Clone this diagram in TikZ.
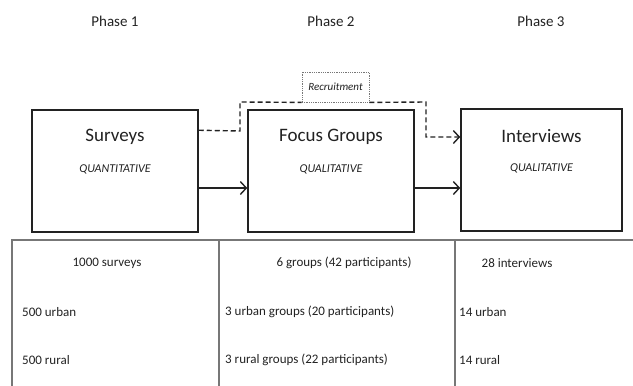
\documentclass[tikz,border=0pt]{standalone}
\usepackage{fontspec}
\setmainfont{Carlito}
\usepackage{tikz}
\usepackage{xcolor}
\usetikzlibrary{arrows.meta, positioning, calc}

\definecolor{ink}{HTML}{222222}
\definecolor{rulegray}{HTML}{777777}

\begin{document}
\begin{tikzpicture}[x=1pt, y=-1pt,
  phasebox/.style={draw=ink, line width=1.5pt, minimum width=166pt, minimum height=122pt, inner sep=0pt},
  phaselabel/.style={font=\fontsize{15}{18}\selectfont, text=ink},
  title/.style={font=\fontsize{19}{22}\selectfont, text=ink},
  kind/.style={font=\fontsize{12}{14}\selectfont\itshape, text=ink},
  cell/.style={font=\fontsize{13}{15}\selectfont, text=ink, anchor=west, inner sep=0pt},
  head/.style={font=\fontsize{13}{15}\selectfont, text=ink, inner sep=0pt},
  flow/.style={draw=ink, line width=1.4pt, -{Straight Barb[length=6pt,width=13pt]}},
  dashline/.style={draw=ink, line width=1.4pt, dash pattern=on 5pt off 3pt}]
\useasboundingbox (0,0) rectangle (633,386);

% Phase headings
\node[phaselabel] (ph1) at (115,21) {Phase 1};
\node[phaselabel] (ph2) at (331,21) {Phase 2};
\node[phaselabel] (ph3) at (541,21) {Phase 3};

% Boxes
\node[phasebox] (surv) at (115,171) {};
\node[title] (survt) at (115,137) {Surveys};
\node[kind] (survk) at (115,169) {QUANTITATIVE};

\node[phasebox] (focus) at (331,171) {};
\node[title] (focust) at (331,137) {Focus Groups};
\node[kind] (focusk) at (331,169) {QUALITATIVE};

\node[phasebox, minimum width=161pt] (intv) at (541.5,170) {};
\node[title] (intvt) at (541.5,136) {Interviews};
\node[kind] (intvk) at (541.5,168) {QUALITATIVE};

% Recruitment
\node[draw=rulegray, densely dotted, line width=0.8pt, minimum width=67pt, minimum height=30pt,
  font=\fontsize{11}{13}\selectfont\itshape, text=ink] (rec) at (335.5,87) {Recruitment};

% Arrows
\draw[flow] (surv.east |- 0,188) -- (focus.west |- 0,188);
\draw[flow] (focus.east |- 0,188) -- (intv.west |- 0,188);
\draw[dashline] ($(surv.north east)+(0,21)$) -- (240,131) -- (240,102) -- (rec.south west);
\draw[dashline, -{Straight Barb[length=6pt,width=13pt]}] (rec.south east) -- (426,102) -- (426,137) -- (intv.west |- 0,137);

% Table
\draw[rulegray, line width=1.4pt] (12,386) -- (12,240) -- (633,240);
\draw[rulegray, line width=1.4pt] (219,240) -- (219,386);
\draw[rulegray, line width=1.4pt] (455,240) -- (455,386);

\node[head] (h1) at (107,263) {1000 surveys};
\node[head] (h2) at (344,263) {6 groups (42 participants)};
\node[head] (h3) at (517,263) {28 interviews};

\node[cell] (c11) at (22,312) {500 urban};
\node[cell] (c12) at (22,360) {500 rural};
\node[cell] (c21) at (225,312) {3 urban groups (20 participants)};
\node[cell] (c22) at (225,360) {3 rural groups (22 participants)};
\node[cell] (c31) at (459,312) {14 urban};
\node[cell] (c32) at (459,360) {14 rural};
\end{tikzpicture}
\end{document}
